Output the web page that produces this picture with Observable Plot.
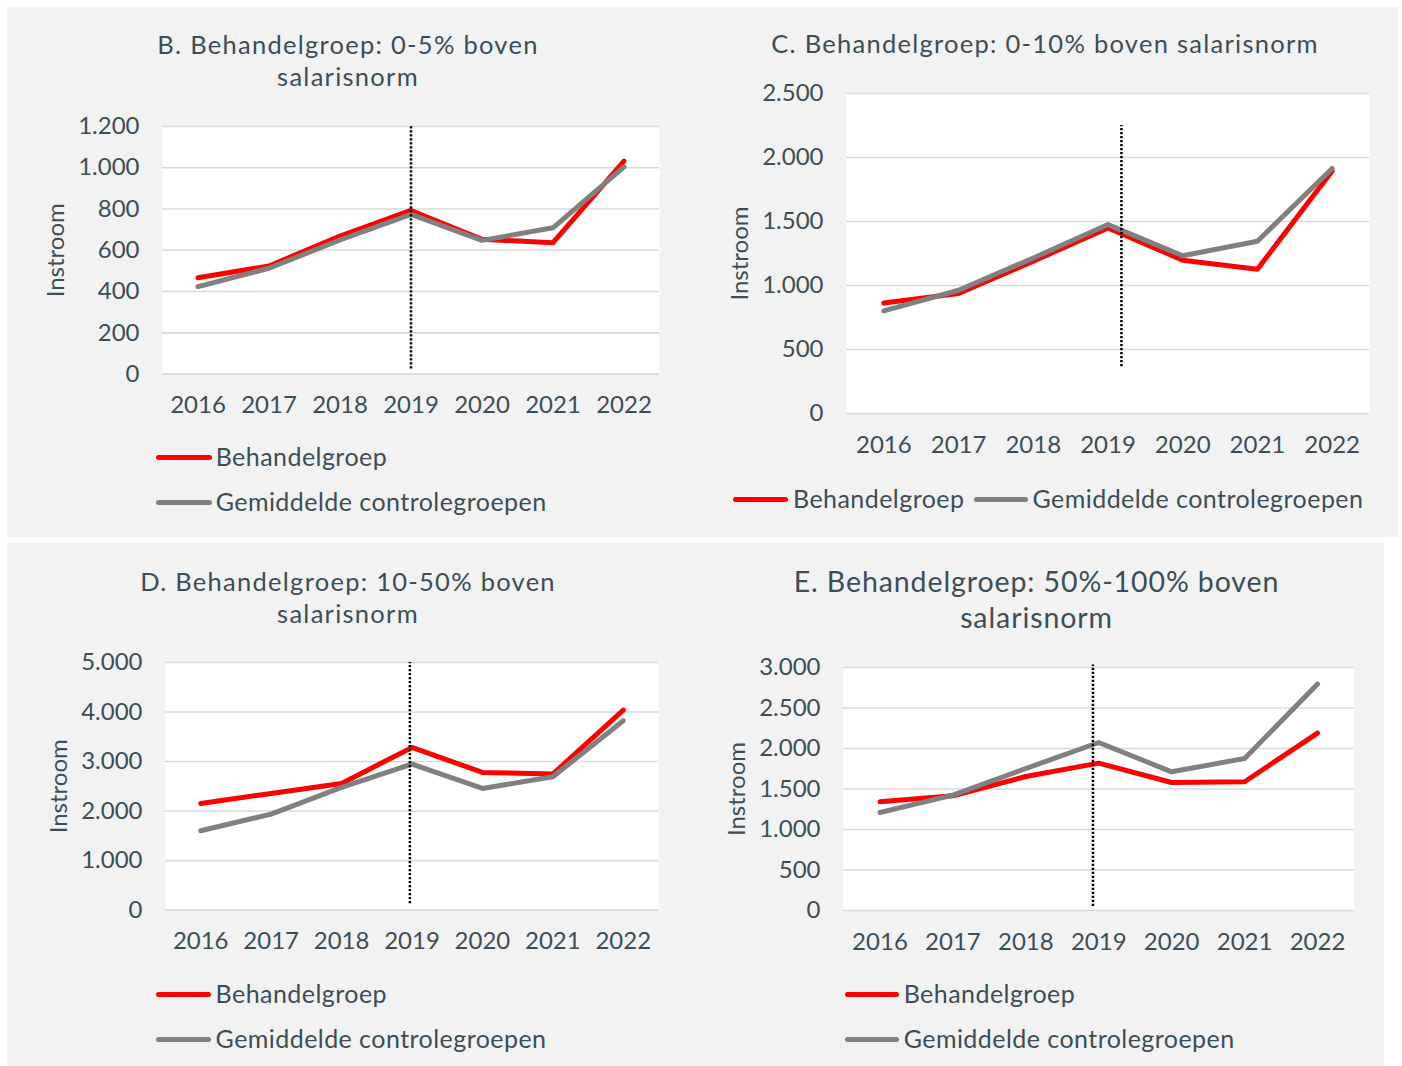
<!DOCTYPE html>
<html>
<head>
<meta charset="utf-8">
<script src="https://cdn.jsdelivr.net/npm/d3@7"></script>
<script src="https://cdn.jsdelivr.net/npm/@observablehq/plot@0.6"></script>
<style>
  html, body { margin: 0; padding: 0; background: #ffffff; }
  #root { position: relative; width: 1402px; height: 1066px; background: #ffffff; overflow: hidden; font-family: Lato, "Noto Sans", sans-serif; }
  .panel { position: absolute; background: #f2f2f2; }
  .txt { position: absolute; white-space: nowrap; font-family: Lato, sans-serif; color: #3b4d56; }
  .sw { position: absolute; height: 5px; border-radius: 2.5px; }
  svg { overflow: visible; }
</style>
</head>
<body>
<div id="root"></div>
<script>
// ---------- data ----------
const years = [2016, 2017, 2018, 2019, 2020, 2021, 2022];
const seriesNames = ["Behandelgroep", "Gemiddelde controlegroepen"];
const yLabel = "Instroom";

const titleB = ["B. Behandelgroep: 0-5% boven", "salarisnorm"];
const titleC = ["C. Behandelgroep: 0-10% boven salarisnorm"];
const titleD = ["D. Behandelgroep: 10-50% boven", "salarisnorm"];
const titleE = ["E. Behandelgroep: 50%-100% boven", "salarisnorm"];

const ticksB = [0, 200, 400, 600, 800, 1000, 1200];
const ticksC = [0, 500, 1000, 1500, 2000, 2500];
const ticksD = [0, 1000, 2000, 3000, 4000, 5000];
const ticksE = [0, 500, 1000, 1500, 2000, 2500, 3000];

const behandelB = [467, 524, 669, 793, 653, 637, 1032];
const controleB = [424, 513, 650, 774, 648, 709, 1004];
const behandelC = [864, 937, 1190, 1450, 1198, 1127, 1895];
const controleC = [802, 963, 1215, 1476, 1232, 1346, 1914];
const behandelD = [2154, 2356, 2558, 3285, 2780, 2747, 4040];
const controleD = [1602, 1939, 2477, 2949, 2457, 2693, 3824];
const behandelE = [1342, 1416, 1654, 1819, 1580, 1589, 2190];
const controleE = [1210, 1424, 1753, 2074, 1712, 1877, 2795];

// dotted policy-change marker (year, value range) per panel
const cutB = {year: 2019, from: 25, to: 1200};
const cutC = {year: 2019.18, from: 365, to: 2250};
const cutD = {year: 2018.97, from: 130, to: 5000};
const cutE = {year: 2018.92, from: 50, to: 3030};

// ---------- styling ----------
const TEXT = "#3b4d56";
const RED = "#ff0000";
const GRAY = "#808080";
const GRID = "#d9d9d9";
const nl = d3.formatLocale({decimal: ",", thousands: ".", grouping: [3], currency: ["€", ""]});
const fmt = nl.format(",");

const root = document.getElementById("root");

function panelBox(l, t, w, h) {
  const d = document.createElement("div");
  d.className = "panel";
  Object.assign(d.style, {left: l + "px", top: t + "px", width: w + "px", height: h + "px"});
  root.appendChild(d);
}

function addText(str, x, y, size, anchor, spacing) {
  const d = document.createElement("div");
  d.className = "txt";
  d.textContent = str;
  d.style.fontSize = size + "px";
  d.style.lineHeight = size + "px";
  d.style.letterSpacing = (spacing || 0) + "px";
  d.style.top = (y - 0.529 * size) + "px";
  d.style.left = x + "px";
  if (anchor === "middle") d.style.transform = "translateX(-50%)";
  root.appendChild(d);
}

function addSwatch(x0, x1, y, color) {
  const d = document.createElement("div");
  d.className = "sw";
  Object.assign(d.style, {left: x0 + "px", top: (y - 2.5) + "px", width: (x1 - x0) + "px", background: color});
  root.appendChild(d);
}

const ML = 125, MR = 12, MT = 14, MB = 50;

function makeChart({fx0, fx1, fy0, fy1, ticks, behandel, controle, cut}) {
  const w = fx1 - fx0, h = fy1 - fy0;
  const rowsB = years.map((yr, i) => ({year: yr, value: behandel[i]}));
  const rowsC = years.map((yr, i) => ({year: yr, value: controle[i]}));
  const chart = Plot.plot({
    width: w + ML + MR,
    height: h + MT + MB,
    marginLeft: ML, marginRight: MR, marginTop: MT, marginBottom: MB,
    style: {fontFamily: "Lato, sans-serif", fontSize: "24px", color: TEXT, background: "transparent", overflow: "visible"},
    x: {domain: [2015.5, 2022.5]},
    y: {domain: [0, d3.max(ticks)]},
    marks: [
      Plot.frame({fill: "white", stroke: "none"}),
      Plot.gridY(ticks, {stroke: GRID, strokeWidth: 1.6, strokeOpacity: 1}),
      Plot.axisY(ticks, {tickSize: 0, tickPadding: 23, tickFormat: fmt, label: null, fontSize: 24, fill: TEXT}),
      Plot.axisX(years, {tickSize: 0, tickPadding: 22, tickFormat: d => String(d), label: null, fontSize: 24, fill: TEXT}),
      Plot.text([yLabel], {frameAnchor: "left", textAnchor: "middle", dx: -106.5, rotate: -90, fontSize: 24, fill: TEXT}),
      Plot.line(rowsB, {x: "year", y: "value", stroke: RED, strokeWidth: 5, strokeLinecap: "round", strokeLinejoin: "round"}),
      Plot.line(rowsC, {x: "year", y: "value", stroke: GRAY, strokeWidth: 5, strokeLinecap: "round", strokeLinejoin: "round"}),
      Plot.ruleX([cut], {x: "year", y1: "from", y2: "to", stroke: "#000", strokeWidth: 2.5, strokeDasharray: "2.2,1.8"})
    ]
  });
  chart.style.position = "absolute";
  chart.style.left = (fx0 - ML) + "px";
  chart.style.top = (fy0 - MT) + "px";
  root.appendChild(chart);
}

const TS = 25.5, TSP = 1.27;   // title font size / spacing
const LS = 25, LSP = 0.45;     // legend font size / spacing

// ---------- panels ----------
panelBox(7, 7, 1391, 530);     // top row (B + C)
panelBox(7, 543, 681, 523);    // D
panelBox(688, 543, 696, 523);  // E

// B
addText(titleB[0], 348, 45, TS, "middle", TSP);
addText(titleB[1], 348, 77.6, TS, "middle", TSP);
makeChart({fx0: 162, fx1: 659, fy0: 125.7, fy1: 373.3, ticks: ticksB, behandel: behandelB, controle: controleB, cut: cutB});
addSwatch(156, 212, 457, RED);
addText(seriesNames[0], 215.7, 457, LS, null, LSP);
addSwatch(156, 212, 502, GRAY);
addText(seriesNames[1], 215.7, 502, LS, null, LSP);

// C
addText(titleC[0], 1045, 44.8, TS, "middle", TSP);
makeChart({fx0: 846, fx1: 1369, fy0: 93.3, fy1: 413.3, ticks: ticksC, behandel: behandelC, controle: controleC, cut: cutC});
addSwatch(733, 788, 499, RED);
addText(seriesNames[0], 793, 499, LS, null, LSP);
addSwatch(974, 1028, 499, GRAY);
addText(seriesNames[1], 1032.5, 499, LS, null, LSP);

// D
addText(titleD[0], 348, 582.5, TS, "middle", TSP);
addText(titleD[1], 348, 614.7, TS, "middle", TSP);
makeChart({fx0: 165, fx1: 658, fy0: 661.7, fy1: 909.3, ticks: ticksD, behandel: behandelD, controle: controleD, cut: cutD});
addSwatch(156, 211, 994, RED);
addText(seriesNames[0], 215.6, 994, LS, null, LSP);
addSwatch(156, 211, 1039, GRAY);
addText(seriesNames[1], 215.6, 1039, LS, null, LSP);

// E
addText(titleE[0], 1036.5, 582.5, 28.5, "middle", 0.9);
addText(titleE[1], 1036.5, 618, 28.5, "middle", 0.9);
makeChart({fx0: 842.5, fx1: 1353, fy0: 666.7, fy1: 909.7, ticks: ticksE, behandel: behandelE, controle: controleE, cut: cutE});
addSwatch(845, 899, 994, RED);
addText(seriesNames[0], 903.7, 994, LS, null, LSP);
addSwatch(845, 899, 1039, GRAY);
addText(seriesNames[1], 903.7, 1039, LS, null, LSP);
</script>
</body>
</html>
